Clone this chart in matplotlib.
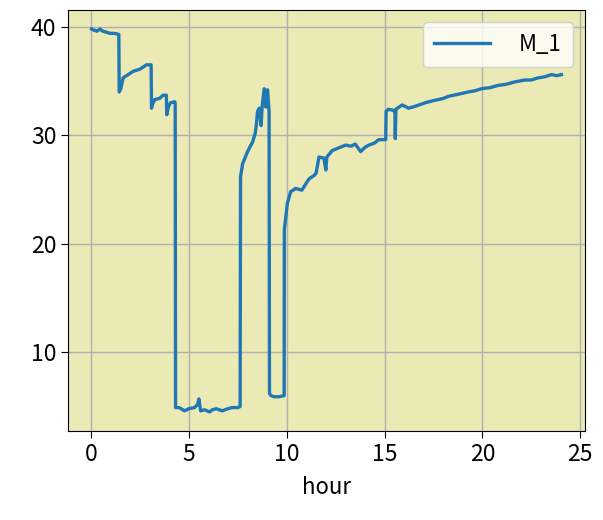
import matplotlib
matplotlib.use("Agg")
import matplotlib.pyplot as plt

plt.rcParams['font.family'] = ['Noto Sans CJK JP', 'DejaVu Sans']

# hour, value pairs
hours = [0.03, 0.15, 0.3, 0.46, 0.6, 0.8, 0.97, 1.2, 1.42, 1.44, 1.52, 1.64, 1.9, 2.15, 2.5, 2.83, 3.07,
         3.09, 3.15, 3.26, 3.5, 3.68, 3.85, 3.87, 3.95, 4.06, 4.27, 4.3,
         4.32, 4.5, 4.78, 5.0, 5.29, 5.45, 5.51, 5.6, 5.8, 6.06, 6.2, 6.4, 6.7, 7.0, 7.2, 7.5, 7.62,
         7.64, 7.75, 8.0, 8.26, 8.39, 8.45, 8.51, 8.6, 8.69, 8.75, 8.85, 8.93, 9.02, 9.1,
         9.12, 9.2, 9.36, 9.6, 9.87,
         9.88, 10.03, 10.2, 10.46, 10.78, 11.0, 11.15, 11.4, 11.5, 11.65, 11.9, 12.0, 12.05,
         12.33, 12.6, 13.0, 13.3, 13.5, 13.78, 14.0, 14.2, 14.5, 14.7, 15.06,
         15.08, 15.2, 15.47, 15.53, 15.55, 15.58, 15.9, 16.23, 16.6, 17.08, 17.5, 18.0, 18.27,
         18.8, 19.29, 19.6, 19.96, 20.4, 20.8, 21.2, 21.6, 22.16, 22.5, 22.85, 23.2, 23.53, 23.8, 24.04]
values = [39.8, 39.7, 39.6, 39.8, 39.6, 39.5, 39.4, 39.4, 39.3, 34.0, 34.3, 35.3, 35.6, 35.9, 36.1, 36.5, 36.5,
          32.5, 32.9, 33.3, 33.4, 33.7, 33.7, 31.9, 32.6, 33.0, 33.1, 33.0,
          4.9, 4.9, 4.6, 4.8, 4.9, 5.2, 5.7, 4.6, 4.7, 4.5, 4.7, 4.8, 4.6, 4.8, 4.9, 4.9, 5.0,
          26.2, 27.4, 28.5, 29.4, 30.2, 31.0, 32.2, 32.5, 30.9, 32.8, 34.3, 32.6, 34.2, 32.2,
          6.2, 6.0, 5.9, 5.9, 6.0,
          21.3, 23.7, 24.8, 25.1, 24.95, 25.6, 26.0, 26.3, 26.5, 28.0, 27.9, 26.8, 28.0,
          28.6, 28.8, 29.1, 29.0, 29.2, 28.5, 28.9, 29.1, 29.3, 29.6, 29.6,
          32.2, 32.4, 32.3, 32.1, 29.7, 32.4, 32.8, 32.5, 32.7, 33.0, 33.2, 33.4, 33.6,
          33.8, 34.0, 34.1, 34.3, 34.4, 34.6, 34.7, 34.9, 35.1, 35.1, 35.3, 35.4, 35.6, 35.5, 35.6]

fig = plt.figure(figsize=(6.03, 5.2), dpi=100)
ax = fig.add_axes([0.113, 0.171, 0.857, 0.81])
ax.set_facecolor('#ebe9b4')
ax.plot(hours, values, color='#1f77b4', lw=2.4, label='M_1')
ax.grid(True, color='#b0b0b0', lw=1.0)
ax.set_xticks([0, 5, 10, 15, 20, 25])
ax.set_yticks([10, 20, 30, 40])
ax.tick_params(labelsize=16.5, length=5)
ax.set_xlabel('hour', fontsize=16, labelpad=7)
ax.legend(loc='upper right', fontsize=16, handlelength=2.5, handletextpad=1.3,
          borderpad=0.5, borderaxespad=0.55)

fig.savefig('out.png', dpi=100)
